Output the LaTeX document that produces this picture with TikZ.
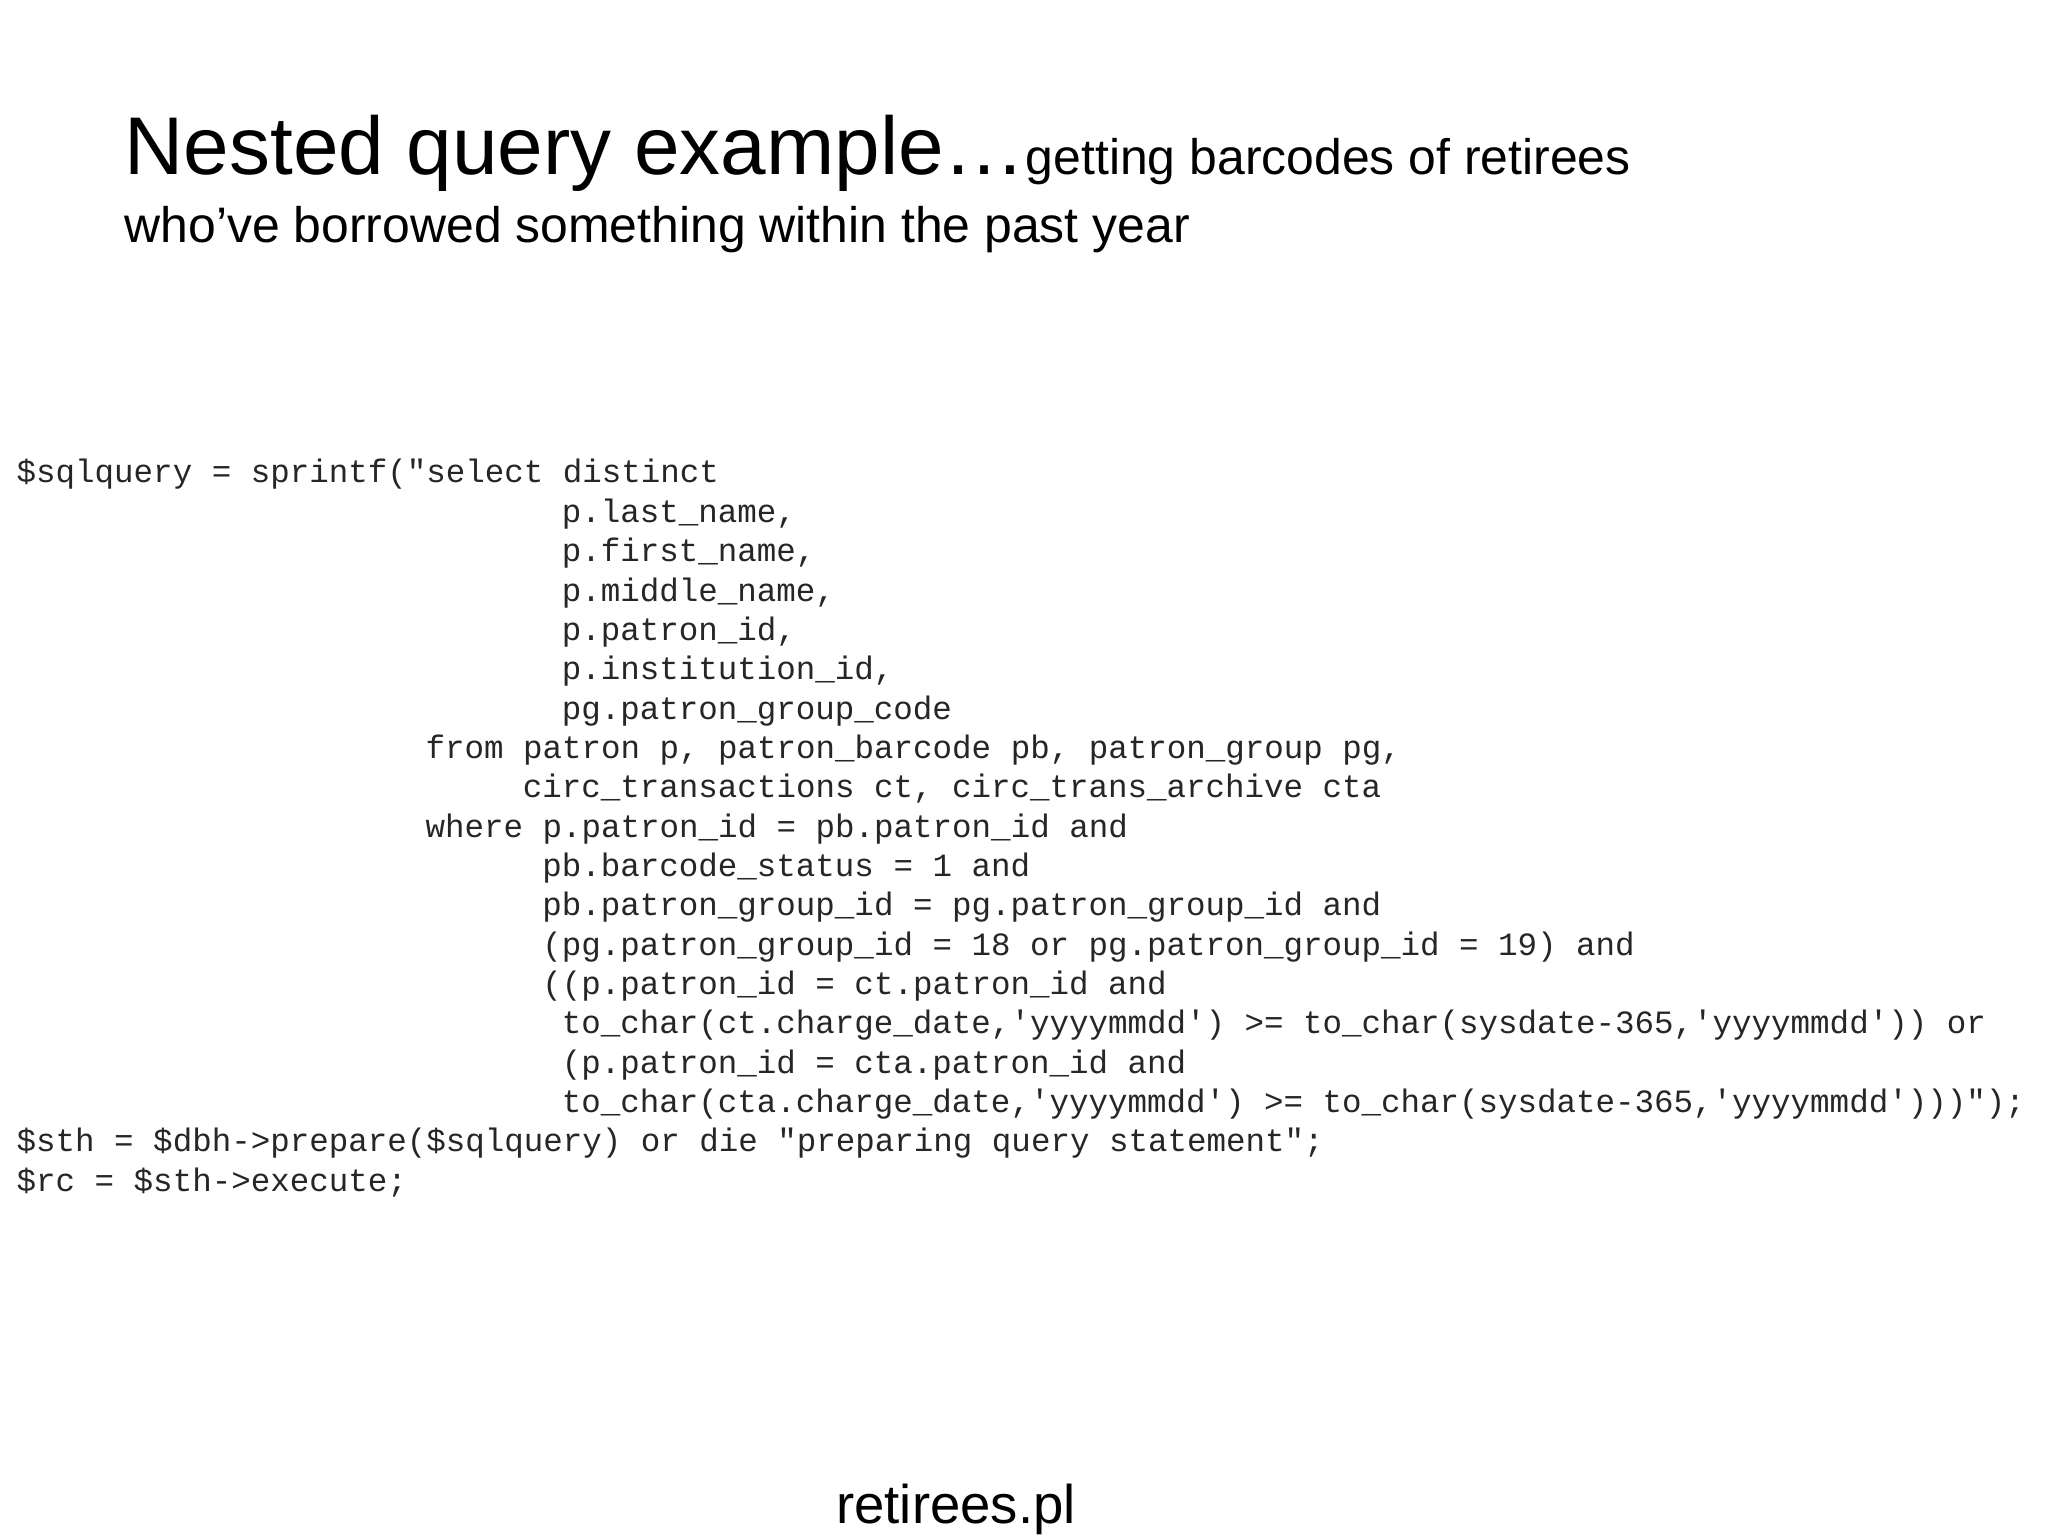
\documentclass[tikz,border=0pt]{standalone}
\usepackage{fontspec}
\setmainfont{Liberation Sans}
\newfontfamily\codefont{Liberation Mono}
\begin{document}
\begin{tikzpicture}[x=1cm,y=1cm,
  codeline/.style={anchor=base west,inner sep=0pt,font=\codefont\fontsize{9.25pt}{11pt}\selectfont,text=black!85}]
\useasboundingbox[fill=white] (0,0) rectangle (20.48,-15.36);
\node[anchor=base west,inner sep=0pt] (title) at (1.24,-1.75)
  {\fontsize{23.3pt}{28pt}\selectfont Nested query example…\fontsize{14.2pt}{17pt}\selectfont getting barcodes of retirees};
\node[anchor=base west,inner sep=0pt,font=\fontsize{14.2pt}{17pt}\selectfont] (sub) at (1.24,-2.43)
  {who’ve borrowed something within the past year};
\def\cw{0.1947}
\def\lh{0.3935}
\foreach \ind/\txt [count=\i from 0] in {
 0/{\$sqlquery = sprintf("select distinct},
 28/{p.last\_name,},
 28/{p.first\_name,},
 28/{p.middle\_name,},
 28/{p.patron\_id,},
 28/{p.institution\_id,},
 28/{pg.patron\_group\_code},
 21/{from patron p, patron\_barcode pb, patron\_group pg,},
 26/{circ\_transactions ct, circ\_trans\_archive cta},
 21/{where p.patron\_id = pb.patron\_id and},
 27/{pb.barcode\_status = 1 and},
 27/{pb.patron\_group\_id = pg.patron\_group\_id and},
 27/{(pg.patron\_group\_id = 18 or pg.patron\_group\_id = 19) and},
 27/{((p.patron\_id = ct.patron\_id and},
 28/{to\_char(ct.charge\_date,'yyyymmdd') >= to\_char(sysdate-365,'yyyymmdd')) or},
 28/{(p.patron\_id = cta.patron\_id and},
 28/{to\_char(cta.charge\_date,'yyyymmdd') >= to\_char(sysdate-365,'yyyymmdd')))");},
 0/{\$sth = \$dbh->prepare(\$sqlquery) or die "preparing query statement";},
 0/{\$rc = \$sth->execute;}}
{
  \node[codeline] (code\i) at ({0.16+\ind*\cw},{-4.83-\i*\lh}) {\txt};
}
\node[anchor=base,inner sep=0pt,font=\fontsize{15.5pt}{18pt}\selectfont] (foot) at (9.56,-15.23) {retirees.pl};
\end{tikzpicture}
\end{document}
